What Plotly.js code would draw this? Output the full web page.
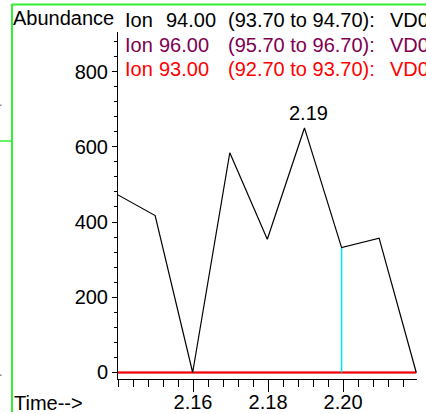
<!DOCTYPE html>
<html>
<head>
<meta charset="utf-8">
<script src="https://cdn.plot.ly/plotly-3.0.1.min.js"></script>
<style>
  html, body { margin: 0; padding: 0; background: #ffffff; }
  #chart { width: 426px; height: 414px; }
</style>
</head>
<body>
<div id="chart"></div>
<script>
// ---- data ----
const scanTimes = [2.1400, 2.1499, 2.1599, 2.1698, 2.1798, 2.1897, 2.1996, 2.2096, 2.2195];
const ion94 = [472, 417, 0, 584, 354, 650, 332, 357, 0];
const ion96 = [0, 0, 0, 0, 0, 0, 0, 0, 0];
const ion93 = [0, 0, 0, 0, 0, 0, 0, 0, 0];
const xTickVals = [2.16, 2.18, 2.20];
const xTickText = ["2.16", "2.18", "2.20"];
const ionNames = ["Ion", "Ion", "Ion"];
const ionMasses = ["94.00", "96.00", "93.00"];
const ionRanges = ["(93.70 to 94.70):", "(95.70 to 96.70):", "(92.70 to 93.70):"];
const ionFiles = ["VD0", "VD0", "VD0"];
const legendColors = ["#000000", "#800050", "#ff0000"];
const peakIndex = 5;      // labelled peak
const selectedIndex = 6;  // cyan scan marker
const yAxisTitle = "Abundance";
const xAxisTitle = "Time-->";

const W = 426, H = 414;
const px = v => v / W;
const py = v => 1 - v / H;
const FONT = "Liberation Sans, Arial, sans-serif";

const traces = [
  { x: scanTimes, y: ion96, mode: "lines", line: { color: "#800050", width: 1.5 }, hoverinfo: "skip" },
  { x: scanTimes, y: ion93, mode: "lines", line: { color: "#ff0000", width: 2 }, hoverinfo: "skip" },
  { x: [scanTimes[selectedIndex], scanTimes[selectedIndex]], y: [0, ion94[selectedIndex]],
    mode: "lines", line: { color: "#00e5ee", width: 1.5 }, hoverinfo: "skip" },
  { x: scanTimes, y: ion94, mode: "lines", line: { color: "#000000", width: 1.2 }, hoverinfo: "skip" }
];

const green = "#33ee33";
const shapes = [
  { type: "line", xref: "paper", yref: "paper", x0: px(12), x1: px(12), y0: py(4), y1: py(412), line: { color: green, width: 2 } },
  { type: "line", xref: "paper", yref: "paper", x0: px(12), x1: 1, y0: py(4.5), y1: py(4.5), line: { color: green, width: 2 } },
  { type: "line", xref: "paper", yref: "paper", x0: 0, x1: px(12), y0: py(141), y1: py(141), line: { color: green, width: 1.5 } },
  { type: "rect", xref: "paper", yref: "paper", x0: 0, x1: px(1.5), y0: py(104.5), y1: py(106), line: { width: 0 }, fillcolor: "#888888" },
  { type: "rect", xref: "paper", yref: "paper", x0: 0, x1: px(1.5), y0: py(374.5), y1: py(376), line: { width: 0 }, fillcolor: "#888888" }
];

const txt = (text, x, y, color) => ({ text: text, xref: "paper", yref: "paper", x: px(x), y: py(y),
  xanchor: "left", yanchor: "middle", showarrow: false, font: { family: FONT, size: 20, color: color } });

const annotations = [
  txt(yAxisTitle, 11, 18, "#000"),
  txt(xAxisTitle, 12, 403, "#000"),
  { text: scanTimes[peakIndex].toFixed(2), x: scanTimes[peakIndex], y: ion94[peakIndex], xref: "x", yref: "y",
    xanchor: "center", yanchor: "bottom", yshift: 2, xshift: 4, showarrow: false, font: { family: FONT, size: 20, color: "#000" } }
];
const rowY = [20, 44.5, 69];
const massX = [164, 157, 157];
for (let i = 0; i < 3; i++) {
  annotations.push(txt(ionNames[i], 123, rowY[i], legendColors[i]));
  annotations.push(txt(ionMasses[i], massX[i], rowY[i], legendColors[i]));
  annotations.push(txt(ionRanges[i], 226, rowY[i], legendColors[i]));
  annotations.push(txt(ionFiles[i], 388, rowY[i], legendColors[i]));
}

const layout = {
  width: W, height: H,
  margin: { l: 0, r: 0, t: 0, b: 0, pad: 0 },
  paper_bgcolor: "#ffffff", plot_bgcolor: "#ffffff",
  showlegend: false,
  xaxis: {
    domain: [px(118), px(417)], range: [2.14, 2.2197],
    showline: true, linecolor: "#000", linewidth: 1, mirror: false,
    showgrid: false, zeroline: false,
    ticks: "outside", ticklen: 12, tickwidth: 1, tickcolor: "#000",
    tickmode: "array", tickvals: xTickVals, ticktext: xTickText,
    ticklabelstandoff: -7,
    minor: { ticks: "outside", ticklen: 7, tickwidth: 1, tickcolor: "#000", tick0: 2.14, dtick: 0.004, showgrid: false },
    tickfont: { family: FONT, size: 20, color: "#000" }
  },
  yaxis: {
    domain: [1 - 379 / H, 1 - 32 / H], range: [-17.3, 905],
    showline: true, linecolor: "#000", linewidth: 1,
    showgrid: false, zeroline: false,
    ticks: "outside", ticklen: 5, tickwidth: 1, tickcolor: "#000",
    tick0: 0, dtick: 200,
    minor: { ticks: "outside", ticklen: 3, tickwidth: 1, tickcolor: "#000", dtick: 40, showgrid: false },
    tickfont: { family: FONT, size: 20, color: "#000" }
  },
  shapes: shapes,
  annotations: annotations
};

Plotly.newPlot("chart", traces, layout, { staticPlot: true, displayModeBar: false });
</script>
</body>
</html>
